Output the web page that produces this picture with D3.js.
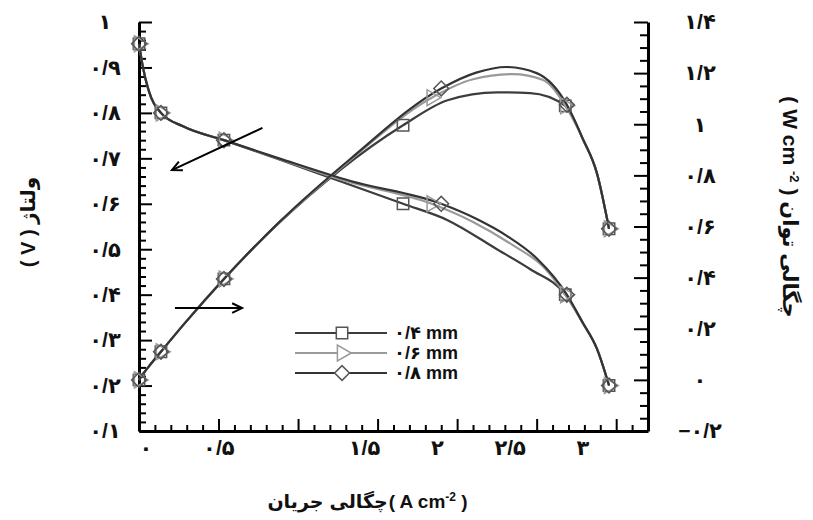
<!DOCTYPE html>
<html>
<head>
<meta charset="utf-8">
<script src="https://cdn.jsdelivr.net/npm/d3@7"></script>
<style>
  body { margin: 0; background: #fff; }
  text { font-family: "Liberation Sans", "DejaVu Sans", sans-serif; font-weight: bold; fill: #111; }
</style>
</head>
<body>
<script>
// Data (current density in A/cm2, voltage in V, power in W/cm2)
const seriesNames = ['۰/۴ mm', '۰/۶ mm', '۰/۸ mm'];
const current04 = [0, 0.025, 0.06, 0.138, 0.28, 0.534, 0.86, 1.26, 1.66, 1.94, 2.25, 2.46, 2.68, 2.79, 2.88, 2.955];
const voltage04 = [0.952, 0.90, 0.85, 0.80, 0.77, 0.74, 0.70, 0.65, 0.60, 0.564, 0.50, 0.456, 0.40, 0.338, 0.28, 0.20];
const power04 = [0, 0.023, 0.051, 0.110, 0.216, 0.395, 0.602, 0.819, 0.996, 1.094, 1.125, 1.122, 1.072, 0.943, 0.806, 0.591];
const current06 = [0, 0.025, 0.06, 0.138, 0.28, 0.534, 0.87, 1.30, 1.84, 2.10, 2.35, 2.54, 2.68, 2.79, 2.88, 2.955];
const voltage06 = [0.952, 0.90, 0.85, 0.80, 0.77, 0.74, 0.70, 0.65, 0.60, 0.56, 0.509, 0.462, 0.40, 0.338, 0.28, 0.20];
const power06 = [0, 0.023, 0.051, 0.110, 0.216, 0.395, 0.609, 0.845, 1.104, 1.176, 1.196, 1.173, 1.072, 0.943, 0.806, 0.591];
const current08 = [0, 0.025, 0.06, 0.138, 0.28, 0.534, 0.88, 1.33, 1.90, 2.12, 2.31, 2.50, 2.69, 2.79, 2.88, 2.955];
const voltage08 = [0.952, 0.90, 0.85, 0.80, 0.77, 0.74, 0.70, 0.65, 0.60, 0.567, 0.53, 0.48, 0.40, 0.338, 0.28, 0.20];
const power08 = [0, 0.023, 0.051, 0.110, 0.216, 0.395, 0.616, 0.865, 1.140, 1.202, 1.224, 1.200, 1.076, 0.943, 0.806, 0.591];
const markerIndex = [0, 3, 5, 8, 12, 15];

const xTickValues = [0, 0.5, 1.5, 2, 2.5, 3];
const xTickLabels = ['۰', '۰/۵', '۱/۵', '۲', '۲/۵', '۳'];
const vTickValues = [0.1, 0.2, 0.3, 0.4, 0.5, 0.6, 0.7, 0.8, 0.9, 1.0];
const vTickLabels = ['۰/۱', '۰/۲', '۰/۳', '۰/۴', '۰/۵', '۰/۶', '۰/۷', '۰/۸', '۰/۹', '۱'];
const pTickValues = [-0.2, 0, 0.2, 0.4, 0.6, 0.8, 1.0, 1.2, 1.4];
const pTickLabels = ['−۰/۲', '۰', '۰/۲', '۰/۴', '۰/۶', '۰/۸', '۱', '۱/۲', '۱/۴'];

const width = 813, height = 520;
const plot = { left: 139, right: 648, top: 22, bottom: 431 };

const svg = d3.select('body').append('svg')
  .attr('width', width)
  .attr('height', height);

// Scales
const x = d3.scaleLinear().domain([0, 3.2]).range([plot.left, plot.right]);
const xLabel = d3.scaleLinear().domain([0, 3]).range([146, 583]); // labels sit off the ticks in the picture
const yV = d3.scaleLinear().domain([0.1, 1.0]).range([plot.bottom, plot.top]);
const yP = d3.scaleLinear().domain([-0.2, 1.4]).range([plot.bottom, plot.top]);

// Axes (ticks point inward)
function styleAxis(g) {
  g.select('.domain').attr('stroke', '#000').attr('stroke-width', 3);
  g.selectAll('.tick line').attr('stroke', '#000').attr('stroke-width', 2);
}

const xMinor = d3.range(0, 3.21, 0.1).filter(v => Math.abs(v / 0.5 - Math.round(v / 0.5)) > 1e-6);
const xMajor = d3.range(0, 3.01, 0.5);

svg.append('g')
  .attr('transform', `translate(0,${plot.bottom})`)
  .call(d3.axisBottom(x).tickValues(xMinor).tickSizeInner(-6).tickSizeOuter(0).tickFormat(''))
  .call(styleAxis);
svg.append('g')
  .attr('transform', `translate(0,${plot.bottom})`)
  .call(d3.axisBottom(x).tickValues(xMajor).tickSizeInner(-12).tickSizeOuter(0).tickFormat(''))
  .call(g => g.select('.domain').remove())
  .call(styleAxis);

const vMinor = d3.range(0.1, 1.001, 0.02).filter(v => Math.abs(v * 10 - Math.round(v * 10)) > 1e-6);
svg.append('g')
  .attr('transform', `translate(${plot.left},0)`)
  .call(d3.axisLeft(yV).tickValues(vMinor).tickSizeInner(-7).tickSizeOuter(0).tickFormat(''))
  .call(styleAxis);
svg.append('g')
  .attr('transform', `translate(${plot.left},0)`)
  .call(d3.axisLeft(yV).tickValues(vTickValues).tickSizeInner(-13).tickSizeOuter(0).tickFormat(''))
  .call(g => g.select('.domain').remove())
  .call(styleAxis);

const pMinor = d3.range(-0.2, 1.401, 0.05).filter(v => Math.abs(v * 5 - Math.round(v * 5)) > 1e-6);
svg.append('g')
  .attr('transform', `translate(${plot.right},0)`)
  .call(d3.axisRight(yP).tickValues(pMinor).tickSizeInner(-8).tickSizeOuter(0).tickFormat(''))
  .call(styleAxis);
svg.append('g')
  .attr('transform', `translate(${plot.right},0)`)
  .call(d3.axisRight(yP).tickValues(pTickValues).tickSizeInner(-14).tickSizeOuter(0).tickFormat(''))
  .call(g => g.select('.domain').remove())
  .call(styleAxis);

// Tick labels
svg.append('g').selectAll('text')
  .data(xTickValues)
  .join('text')
  .attr('x', d => xLabel(d))
  .attr('y', 448)
  .attr('dy', '0.35em')
  .attr('text-anchor', 'middle')
  .attr('font-size', 21)
  .text((d, i) => xTickLabels[i]);

svg.append('g').selectAll('text')
  .data(vTickValues)
  .join('text')
  .attr('x', 105)
  .attr('y', d => yV(d))
  .attr('dy', '0.35em')
  .attr('text-anchor', 'middle')
  .attr('font-size', 21)
  .text((d, i) => vTickLabels[i]);

svg.append('g').selectAll('text')
  .data(pTickValues)
  .join('text')
  .attr('x', 700)
  .attr('y', d => yP(d))
  .attr('dy', '0.35em')
  .attr('text-anchor', 'middle')
  .attr('font-size', 21)
  .text((d, i) => pTickLabels[i]);

// Axis titles
svg.append('text')
  .attr('transform', 'translate(35,222) rotate(-90)')
  .attr('text-anchor', 'middle')
  .attr('font-size', 20)
  .text('( V )  ولتاژ');

const rightTitle = svg.append('text')
  .attr('transform', 'translate(783,207) rotate(90)')
  .attr('text-anchor', 'middle')
  .attr('font-size', 21);
rightTitle.append('tspan').text('( W cm ');
rightTitle.append('tspan').attr('baseline-shift', 'super').attr('font-size', 13).text('-2');
rightTitle.append('tspan').text(' )  چگالی توان');

// Bottom title: pieces placed left to right as they appear in the picture
const bottomTitle = svg.append('g');
const pieces = ['جریان', 'چگالی', null];
let cursor = 0;
pieces.forEach((p, i) => {
  const t = bottomTitle.append('text').attr('x', cursor).attr('y', 0).attr('font-size', 19);
  if (p) {
    t.text(p);
  } else {
    t.append('tspan').text('( A cm');
    t.append('tspan').attr('baseline-shift', 'super').attr('font-size', 12).text('-2');
    t.append('tspan').text(' )');
  }
  cursor += t.node().getComputedTextLength() + (i === 0 ? 6 : 1);
});
bottomTitle.attr('transform', `translate(${368 - cursor / 2},508)`);

// Series
const series = [
  { name: seriesNames[0], I: current04, V: voltage04, P: power04, color: '#3c3c3c', mark: 'square' },
  { name: seriesNames[1], I: current06, V: voltage06, P: power06, color: '#9a9a9a', mark: 'triangle' },
  { name: seriesNames[2], I: current08, V: voltage08, P: power08, color: '#333333', mark: 'diamond' }
];

const symbolPath = {
  square: d3.symbol().type(d3.symbolSquare).size(130)(),
  triangle: d3.symbol().type(d3.symbolTriangle).size(110)(),
  diamond: d3.symbol().type(d3.symbolSquare).size(110)()
};
const symbolRotate = { square: 0, triangle: 90, diamond: 45 };

const lineV = d3.line().x(d => x(d[0])).y(d => yV(d[1])).curve(d3.curveMonotoneX);
const lineP = d3.line().x(d => x(d[0])).y(d => yP(d[1])).curve(d3.curveMonotoneX);

series.forEach(s => {
  const vPts = s.I.map((c, i) => [c, s.V[i]]);
  const pPts = s.I.map((c, i) => [c, s.P[i]]);
  svg.append('path').attr('d', lineV(vPts))
    .attr('fill', 'none').attr('stroke', s.color).attr('stroke-width', 2.2);
  svg.append('path').attr('d', lineP(pPts))
    .attr('fill', 'none').attr('stroke', s.color).attr('stroke-width', 2.2);
});

series.forEach(s => {
  const marks = markerIndex.flatMap(i => [[s.I[i], yV(s.V[i])], [s.I[i], yP(s.P[i])]]);
  svg.append('g').selectAll('path')
    .data(marks)
    .join('path')
    .attr('d', symbolPath[s.mark])
    .attr('transform', d => `translate(${x(d[0])},${d[1]}) rotate(${symbolRotate[s.mark]})`)
    .attr('fill', 'none')
    .attr('stroke', s.mark === 'triangle' ? '#9a9a9a' : '#555')
    .attr('stroke-width', 1.5);
});

// Arrows pointing each family of curves to its axis
const arrows = [
  { from: [0.776, 0.767], to: [0.207, 0.674], y: yV },
  { from: [0.226, 0.281], to: [0.648, 0.281], y: yP }
];
arrows.forEach(a => {
  const x1 = x(a.from[0]), y1 = a.y(a.from[1]);
  const x2 = x(a.to[0]), y2 = a.y(a.to[1]);
  const ang = Math.atan2(y2 - y1, x2 - x1);
  const h = 11, spread = 0.45;
  svg.append('line')
    .attr('x1', x1).attr('y1', y1).attr('x2', x2).attr('y2', y2)
    .attr('stroke', '#000').attr('stroke-width', 2);
  svg.append('path')
    .attr('d', `M${x2 - h * Math.cos(ang - spread)},${y2 - h * Math.sin(ang - spread)}L${x2},${y2}L${x2 - h * Math.cos(ang + spread)},${y2 - h * Math.sin(ang + spread)}`)
    .attr('fill', 'none').attr('stroke', '#000').attr('stroke-width', 2);
});

// Legend
const legend = svg.append('g').attr('transform', 'translate(295,333)');
series.forEach((s, i) => {
  const row = legend.append('g').attr('transform', `translate(0,${i * 20})`);
  row.append('line').attr('x1', 0).attr('x2', 92).attr('y1', 0).attr('y2', 0)
    .attr('stroke', s.color).attr('stroke-width', 2.2);
  row.append('path')
    .attr('d', symbolPath[s.mark])
    .attr('transform', `translate(47,0) rotate(${symbolRotate[s.mark]})`)
    .attr('fill', '#fff')
    .attr('stroke', s.mark === 'triangle' ? '#9a9a9a' : '#555')
    .attr('stroke-width', 1.5);
  row.append('text')
    .attr('x', 99).attr('y', 0).attr('dy', '0.35em')
    .attr('font-size', 18)
    .text(s.name);
});
</script>
</body>
</html>
